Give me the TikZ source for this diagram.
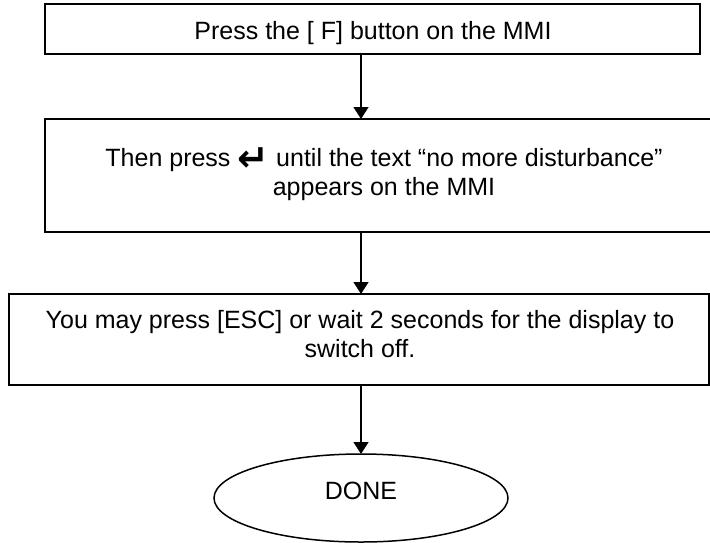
\documentclass[tikz,border=0pt]{standalone}
\usepackage{fontspec}
\setmainfont{Liberation Sans}
\newfontfamily\symfont{DejaVu Sans}
\usetikzlibrary{arrows.meta,shapes.geometric,calc}

% enter-key symbol, enlarged and sitting on the baseline
\newcommand{\enterkey}{\raisebox{-5pt}{\symfont\bfseries\fontsize{38}{38}\selectfont ↵}}

\begin{document}
\begin{tikzpicture}[x=1pt,y=-1pt,
  every node/.style={font=\fontsize{25}{29}\selectfont, inner sep=0pt, outer sep=0pt},
  stepbox/.style={draw, line width=1.8pt, rectangle, anchor=north west},
  endbox/.style={draw, line width=1.5pt, ellipse},
  flow/.style={line width=1.4pt, -{Triangle[length=12pt,width=15pt]}},
]
\useasboundingbox (0,0) rectangle (710,542);

% process boxes
\node[stepbox, minimum width=655pt, minimum height=50pt] (b1) at (45,4) {};
\node[stepbox, minimum width=677pt, minimum height=113pt] (b2) at (45,119) {};
\node[stepbox, minimum width=700pt, minimum height=91pt] (b3) at (9,294) {};

% terminal
\node[endbox, minimum width=294pt, minimum height=88pt] (done) at (361,498) {};

% labels (multi-line labels are placed by the baseline of their last line)
\node[anchor=base] (t1) at (373,39) {Press the [ F] button on the MMI};
\node[anchor=base, align=center] (t2) at (384,195)
  {Then press \enterkey\ until the text “no more disturbance”\\appears on the MMI};
\node[anchor=base, align=center] (t3) at (360,357)
  {You may press [ESC] or wait 2 seconds for the display to\\switch off.};
\node (t4) at (361,491) {DONE};

% connectors
\draw[flow] (b1.south -| done.north) -- (b2.north -| done.north);
\draw[flow] (b2.south -| done.north) -- (b3.north -| done.north);
\draw[flow] (b3.south -| done.north) -- (done.north);
\end{tikzpicture}
\end{document}
